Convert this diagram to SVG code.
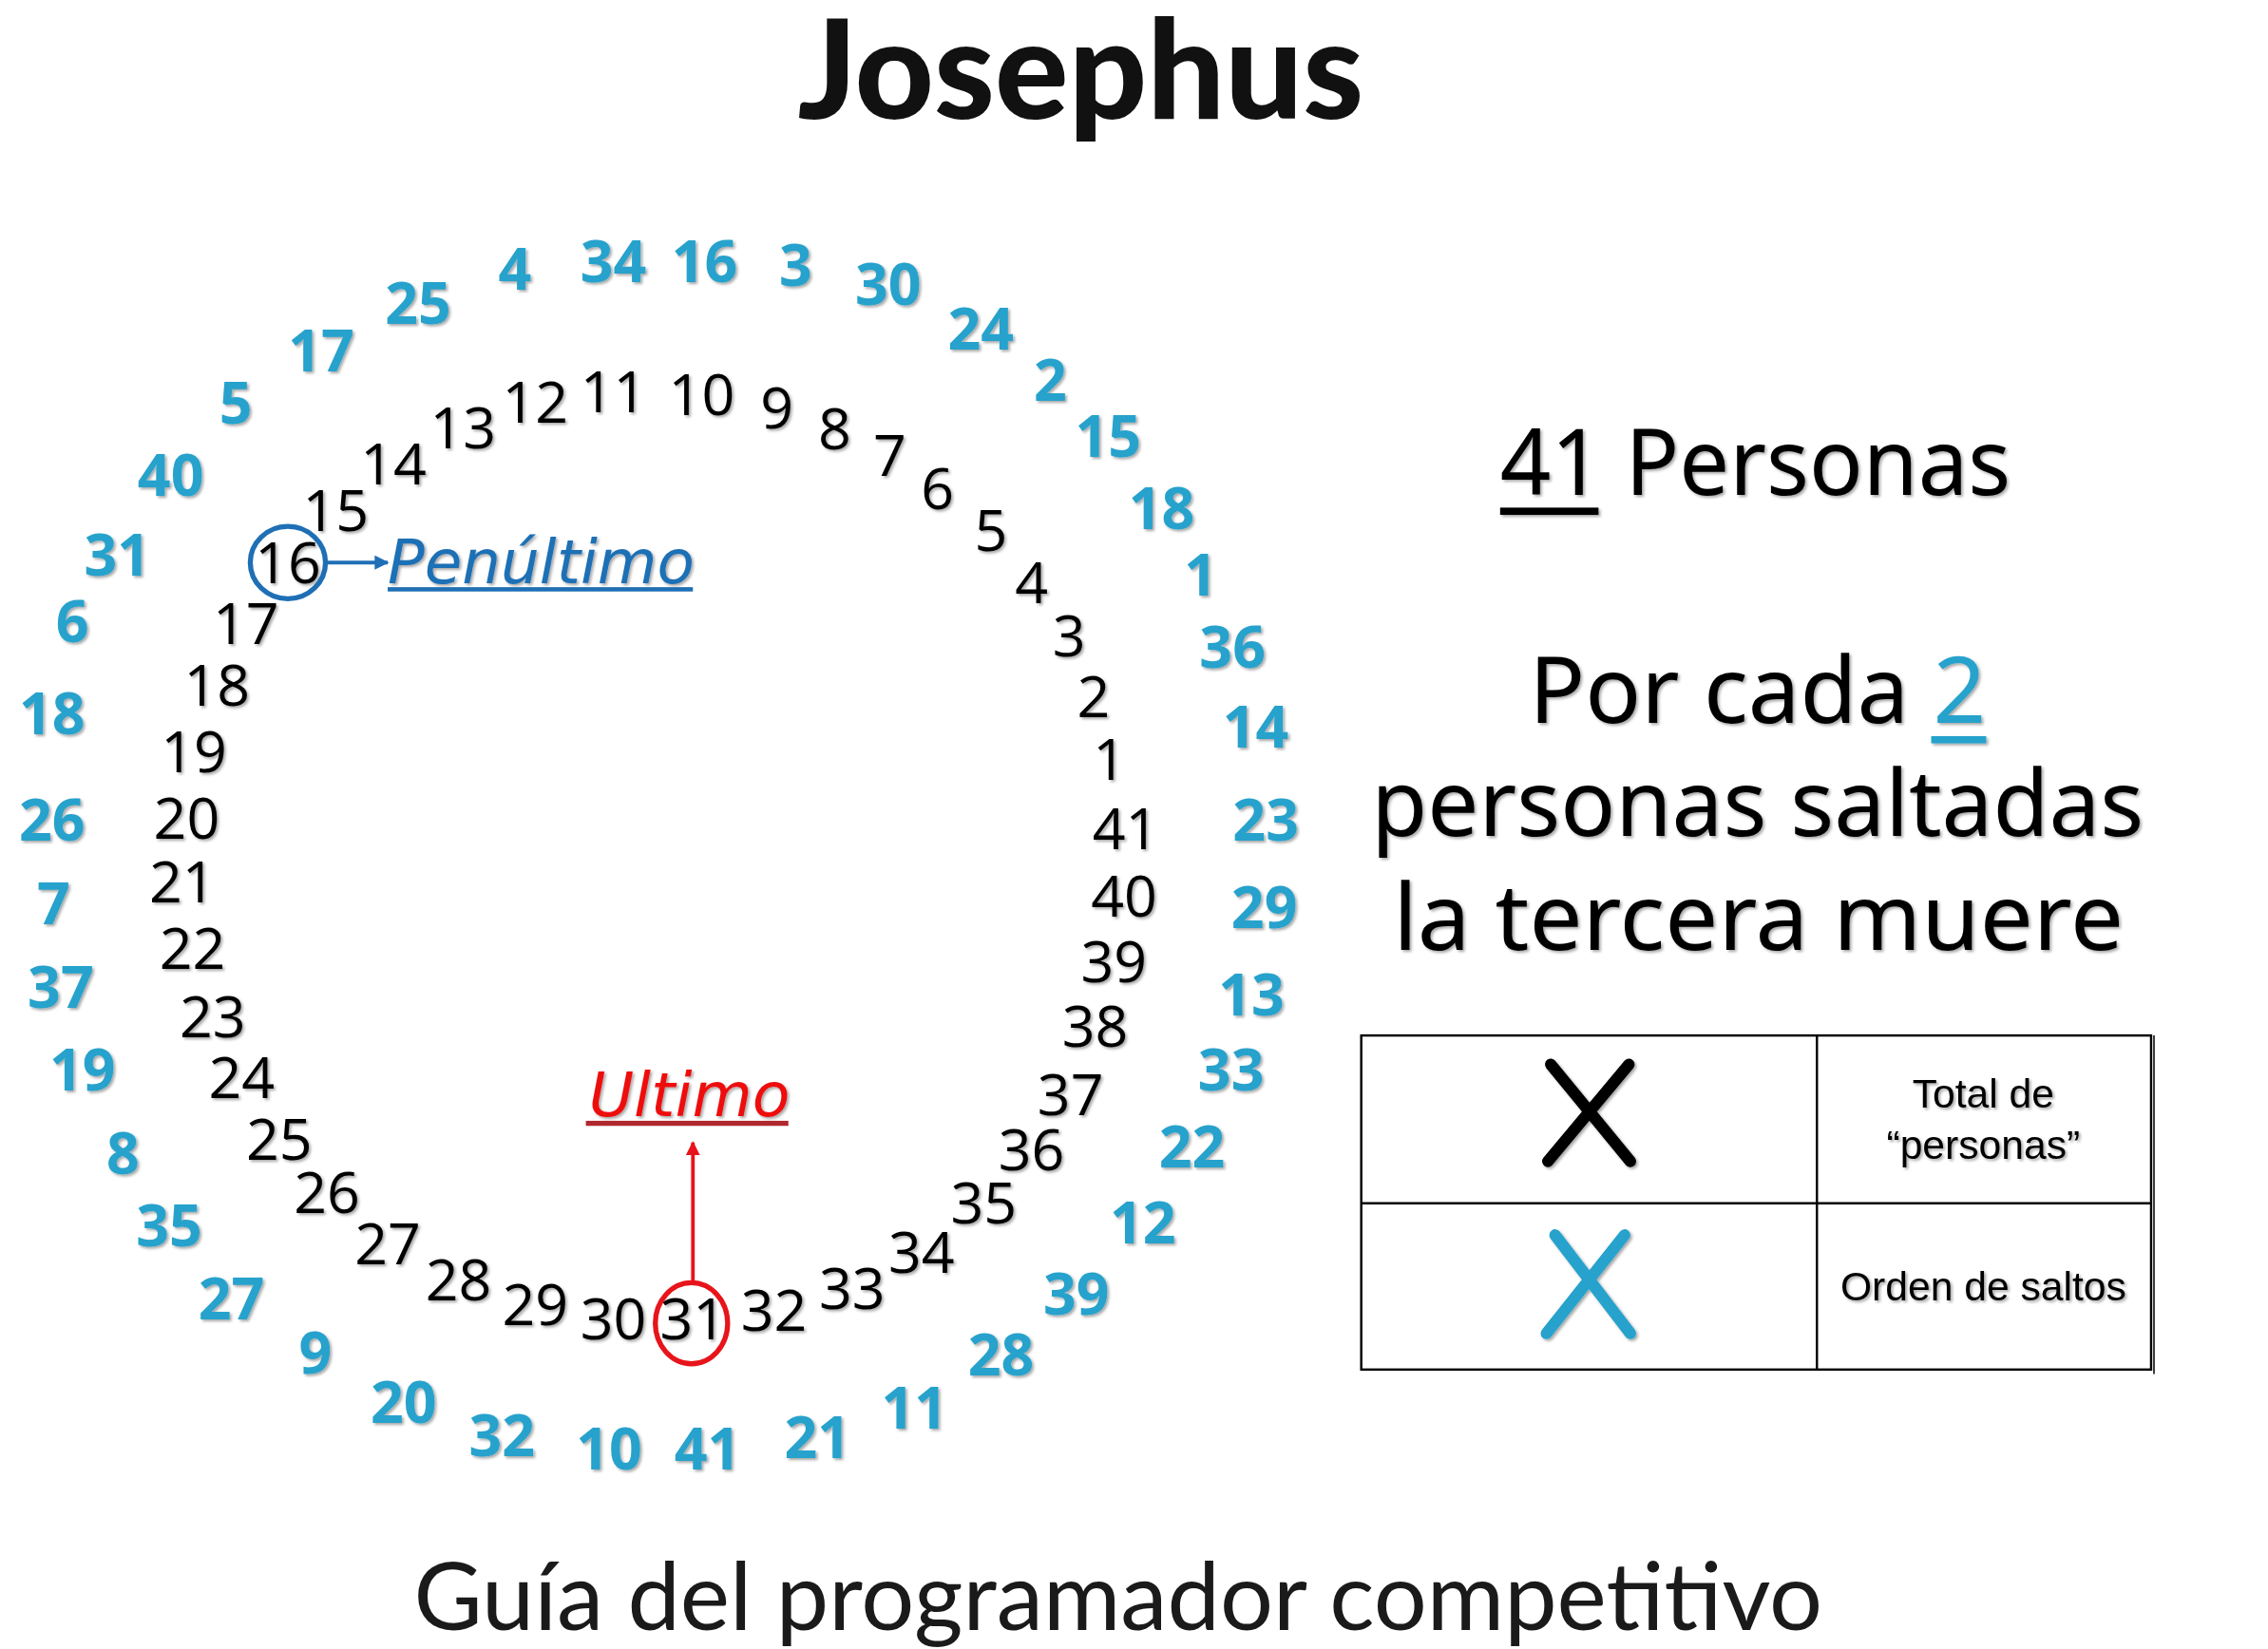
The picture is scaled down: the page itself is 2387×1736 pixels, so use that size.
<svg xmlns="http://www.w3.org/2000/svg" width="2387" height="1736" viewBox="0 0 2387 1736">
<defs>
<style>
.k{font-family:"Open Sans","Noto Sans",sans-serif;font-size:40px;fill:#000;text-anchor:middle}
.b{font-family:"Open Sans","Noto Sans",sans-serif;font-size:40px;font-weight:700;fill:#27a2cc;text-anchor:middle}
.big{font-family:"Noto Sans","Open Sans",sans-serif;font-size:64px;fill:#000}
.tbl{font-family:"Liberation Sans",Arial,sans-serif;font-size:28px;fill:#000;text-anchor:middle}
.line{stroke:#000;stroke-width:1.6;fill:none}
</style>
<filter id="sh" x="-20%" y="-20%" width="140%" height="140%">
<feDropShadow dx="1.3" dy="1.3" stdDeviation="0.9" flood-color="#000" flood-opacity="0.35"/>
</filter>
<marker id="ab" viewBox="0 0 10 10" refX="9" refY="5" markerWidth="4" markerHeight="4" orient="auto" markerUnits="strokeWidth"><path d="M0,0 L10,5 L0,10 z" fill="#1f6fb5"/></marker>
<marker id="ar" viewBox="0 0 10 10" refX="9" refY="5" markerWidth="4" markerHeight="4" orient="auto" markerUnits="strokeWidth"><path d="M0,0 L10,5 L0,10 z" fill="#e8141b"/></marker>
</defs>
<rect width="2387" height="1736" fill="#fff"/>
<g transform="scale(1.5225)">
<text x="747" y="82" font-family="Lato,'Open Sans',sans-serif" font-weight="900" font-size="95" fill="#111" text-anchor="middle">Josephus</text>
<text x="773" y="1127" font-family="Lato,'Open Sans',sans-serif" font-size="65" fill="#1a1a1a" text-anchor="middle">Guía del programador competitivo</text>

<g id="inner" filter="url(#sh)">
<text class="k" x="767" y="539">1</text>
<text class="k" x="756" y="496">2</text>
<text class="k" x="739" y="454">3</text>
<text class="k" x="713" y="417">4</text>
<text class="k" x="685" y="381">5</text>
<text class="k" x="648" y="352">6</text>
<text class="k" x="615" y="329">7</text>
<text class="k" x="577" y="311">8</text>
<text class="k" x="537" y="296">9</text>
<text class="k" x="485" y="287">10</text>
<text class="k" x="424" y="285">11</text>
<text class="k" x="370" y="292">12</text>
<text class="k" x="320" y="310">13</text>
<text class="k" x="272" y="335">14</text>
<text class="k" x="232" y="367">15</text>
<text class="k" x="199" y="403">16</text>
<text class="k" x="170" y="445">17</text>
<text class="k" x="150" y="488">18</text>
<text class="k" x="134" y="534">19</text>
<text class="k" x="129" y="580">20</text>
<text class="k" x="126" y="624">21</text>
<text class="k" x="133" y="670">22</text>
<text class="k" x="147" y="717">23</text>
<text class="k" x="167" y="759">24</text>
<text class="k" x="193" y="802">25</text>
<text class="k" x="226" y="839">26</text>
<text class="k" x="268" y="874">27</text>
<text class="k" x="317" y="899">28</text>
<text class="k" x="370" y="916">29</text>
<text class="k" x="424" y="926">30</text>
<text class="k" x="479" y="926">31</text>
<text class="k" x="535" y="920">32</text>
<text class="k" x="589" y="905">33</text>
<text class="k" x="637" y="880">34</text>
<text class="k" x="680" y="846">35</text>
<text class="k" x="713" y="809">36</text>
<text class="k" x="740" y="771">37</text>
<text class="k" x="757" y="724">38</text>
<text class="k" x="770" y="679">39</text>
<text class="k" x="777" y="634">40</text>
<text class="k" x="778" y="587">41</text>
</g>

<g id="outer" filter="url(#sh)">
<text class="b" x="356" y="200">4</text>
<text class="b" x="424" y="195">34</text>
<text class="b" x="487" y="195">16</text>
<text class="b" x="550" y="198">3</text>
<text class="b" x="614" y="211">30</text>
<text class="b" x="678" y="242">24</text>
<text class="b" x="726" y="277">2</text>
<text class="b" x="766" y="316">15</text>
<text class="b" x="803" y="366">18</text>
<text class="b" x="830" y="412">1</text>
<text class="b" x="852" y="462">36</text>
<text class="b" x="868" y="517">14</text>
<text class="b" x="875" y="581">23</text>
<text class="b" x="874" y="642">29</text>
<text class="b" x="865" y="702">13</text>
<text class="b" x="851" y="754">33</text>
<text class="b" x="824" y="807">22</text>
<text class="b" x="790" y="860">12</text>
<text class="b" x="744" y="909">39</text>
<text class="b" x="692" y="951">28</text>
<text class="b" x="632" y="988">11</text>
<text class="b" x="565" y="1008">21</text>
<text class="b" x="489" y="1016">41</text>
<text class="b" x="421" y="1016">10</text>
<text class="b" x="347" y="1007">32</text>
<text class="b" x="279" y="984">20</text>
<text class="b" x="218" y="950">9</text>
<text class="b" x="160" y="912">27</text>
<text class="b" x="117" y="862">35</text>
<text class="b" x="85" y="812">8</text>
<text class="b" x="57" y="754">19</text>
<text class="b" x="42" y="697">37</text>
<text class="b" x="37" y="639">7</text>
<text class="b" x="36" y="581">26</text>
<text class="b" x="36" y="508">18</text>
<text class="b" x="50" y="444">6</text>
<text class="b" x="81" y="398">31</text>
<text class="b" x="118" y="343">40</text>
<text class="b" x="163" y="293">5</text>
<text class="b" x="222" y="257">17</text>
<text class="b" x="289" y="224">25</text>
</g>

<g id="penultimo">
<ellipse cx="199" cy="389" rx="26" ry="25" fill="none" stroke="#1f6fb5" stroke-width="3.5"/>
<line x1="226" y1="389" x2="268" y2="389" stroke="#1f6fb5" stroke-width="2.5" marker-end="url(#ab)"/>
<text x="268" y="403" font-family="'DejaVu Sans',Verdana,sans-serif" font-style="italic" font-size="42" fill="#1f6fb5" filter="url(#sh)" textLength="212" lengthAdjust="spacingAndGlyphs">Penúltimo</text>
<rect x="268" y="406" width="211" height="3" fill="#1f6fb5"/>
</g>

<g id="ultimo">
<ellipse cx="478" cy="915" rx="25" ry="28" fill="none" stroke="#e8141b" stroke-width="3.5"/>
<line x1="479" y1="887" x2="479" y2="790" stroke="#e8141b" stroke-width="2.5" marker-end="url(#ar)"/>
<text x="407" y="772" font-family="'DejaVu Sans',Verdana,sans-serif" font-style="italic" font-size="42" fill="#ee1111" filter="url(#sh)" textLength="139" lengthAdjust="spacingAndGlyphs">Ultimo</text>
<rect x="405" y="775" width="140" height="3.5" fill="#b0282e"/>
</g>

<g id="rules" filter="url(#sh)">
<text class="big" x="1037" y="342" textLength="353" lengthAdjust="spacingAndGlyphs">41 Personas</text>
<rect x="1037" y="351" width="68" height="5" fill="#000"/>
<text class="big" x="1057" y="500" textLength="316" lengthAdjust="spacingAndGlyphs">Por cada <tspan fill="#27a2cc">2</tspan></text>
<rect x="1335" y="509" width="38" height="5" fill="#27a2cc"/>
<text class="big" x="948" y="578" textLength="534" lengthAdjust="spacingAndGlyphs">personas saltadas</text>
<text class="big" x="963" y="657" textLength="505" lengthAdjust="spacingAndGlyphs">la tercera muere</text>
</g>

<g id="table">
<rect x="941" y="716" width="546" height="231" class="line"/>
<line x1="941" y1="832" x2="1487" y2="832" class="line"/>
<line x1="1256" y1="716" x2="1256" y2="947" class="line"/>
<line x1="1489" y1="716" x2="1489" y2="950" stroke="#000" stroke-width="1"/>
<g filter="url(#sh)">
<path d="M1072,736 L1127,803 M1126,736 L1070,803" stroke="#000" stroke-width="8" stroke-linecap="round" fill="none"/>
<path d="M1075,854 L1127,922 M1123,854 L1069,922" stroke="#27a2cc" stroke-width="8" stroke-linecap="round" fill="none"/>
<text class="tbl" x="1371" y="766">Total de</text>
<text class="tbl" x="1371" y="801">“personas”</text>
<text class="tbl" x="1371" y="899">Orden de saltos</text>
</g>
</g>
</g>
</svg>
